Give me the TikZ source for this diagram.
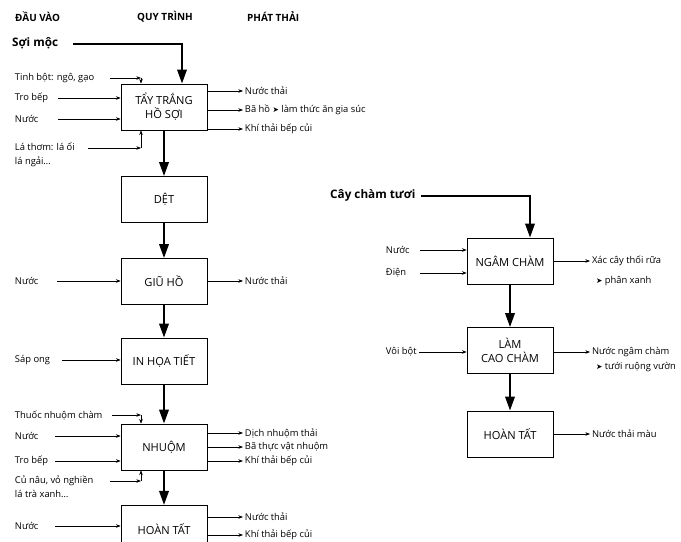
\documentclass[tikz,border=0pt]{standalone}
\usepackage{fontspec}
\setmainfont{Open Sans}
\newfontfamily\symfont{DejaVu Sans}
\usetikzlibrary{calc}
\usetikzlibrary{arrows.meta}
\usetikzlibrary{positioning}

\newcommand{\nxt}{{\symfont\fontsize{6.5}{6.5}\selectfont ➤}}

\tikzset{
	proc/.style={draw, line width=0.6pt, minimum width=2.58cm, minimum height=1.38cm, align=center, font=\fontsize{9.5}{12}\selectfont},
	lbl/.style={anchor=west, inner sep=1.5pt, align=left, font=\fontsize{8}{12}\selectfont},
	head/.style={anchor=west, inner sep=0pt, font=\bfseries\fontsize{8.5}{10}\selectfont},
	src/.style={anchor=west, inner sep=0pt, font=\bfseries\fontsize{10}{12}\selectfont},
	flow/.style={line width=2pt, -{Triangle[length=12pt,width=8pt]}},
	feed/.style={line width=0.5pt, -{Stealth[length=4pt,width=3pt]}},
}

\begin{document}
\begin{tikzpicture}[x=0.03cm, y=-0.03cm]
				\useasboundingbox (0,0) rectangle (681,542);

				\node[head] (h1) at (15,17) {ĐẦU VÀO};
				\node[head] (h2) at (137,17) {QUY TRÌNH};
				\node[head] (h3) at (247,17) {PHÁT THẢI};

				% day chinh
				\node[src] (soi) at (12,43) {Sợi mộc};
				\node[proc] (tay) at (164,107) {TẨY TRẮNG\\HỒ SỢI};
				\node[proc] (det) at (164,199.5) {DỆT};
				\node[proc] (giu) at (164,281.5) {GIŨ HỒ};
				\node[proc] (inh) at (164,361) {IN HỌA TIẾT};
				\node[proc] (nhuom) at (164,447) {NHUỘM};
				\node[proc, anchor=north, minimum height=1.45cm] (hoan) at (164,505) {HOÀN TẤT};

				\coordinate (soi0) at (73,44);
				\draw[flow] (soi0) -| ($(tay.north)+(18,0)$);
				\draw[flow] (tay.south) -- (det.north);
				\draw[flow] (det.south) -- (giu.north);
				\draw[flow] (giu.south) -- (inh.north);
				\draw[flow] (inh.south) -- (nhuom.north);
				\draw[flow] (nhuom.south) -- (hoan.north);

				% tay trang ho soi
				\node[lbl] (tinh) at (13,78) {Tinh bột: ngô, gạo};
				\node[lbl] (tro1) at (13,98) {Tro bếp};
				\node[lbl] (nuoc1) at (13,119) {Nước};
				\node[lbl] (la) at (13,155) {Lá thơm: lá ổi\\lá ngải…};
				\coordinate (tinh0) at (110,78);
				\coordinate (tinhk) at ($(tay.north)+(-23,0)$);
				\coordinate (tro10) at (58,98);
				\coordinate (nuoc10) at (58,119);
				\coordinate (la0) at (88,148);
				\coordinate (lak) at ($(tay.south)+(-23,0)$);
				\draw[feed] (tinh0) -- (tinh0 -| tinhk);
				\draw[feed] (tinh0 -| tinhk) -- (tinhk);
				\draw[feed] (tro10) -- (tro10 -| tay.west);
				\draw[feed] (nuoc10) -- (nuoc10 -| tay.west);
				\draw[feed] (la0) -- (la0 -| lak);
				\draw[feed] (la0 -| lak) -- (lak);

				\node[lbl] (o11) at (243,91) {Nước thải};
				\node[lbl] (o12) at (243,110) {Bã hồ \nxt\ làm thức ăn gia súc};
				\node[lbl] (o13) at (243,129) {Khí thải bếp củi};
				\draw[feed] (tay.east |- o11) -- (o11.west);
				\draw[feed] (tay.east |- o12) -- (o12.west);
				\draw[feed] (tay.east |- o13) -- (o13.west);

				% giu ho
				\node[lbl] (nuoc2) at (13,281) {Nước};
				\coordinate (nuoc20) at (57,281);
				\draw[feed] (nuoc20) -- (nuoc20 -| giu.west);
				\node[lbl] (o21) at (243,281) {Nước thải};
				\draw[feed] (giu.east |- o21) -- (o21.west);

				% in hoa tiet
				\node[lbl] (sap) at (13,360) {Sáp ong};
				\coordinate (sap0) at (62,360);
				\draw[feed] (sap0) -- (sap0 -| inh.west);

				% nhuom
				\node[lbl] (thuoc) at (13,415) {Thuốc nhuộm chàm};
				\node[lbl] (nuoc3) at (13,436) {Nước};
				\node[lbl] (tro3) at (13,461) {Tro bếp};
				\node[lbl] (cu) at (13,487) {Củ nâu, vỏ nghiền\\lá trà xanh…};
				\coordinate (thuoc0) at (112,415);
				\coordinate (thuock) at ($(nhuom.north)+(-23,0)$);
				\coordinate (nuoc30) at (55,436);
				\coordinate (tro30) at (55,461);
				\coordinate (cu0) at (110,481);
				\coordinate (cuk) at ($(nhuom.south)+(-23,0)$);
				\draw[feed] (thuoc0) -- (thuoc0 -| thuock);
				\draw[feed] (thuoc0 -| thuock) -- (thuock);
				\draw[feed] (nuoc30) -- (nuoc30 -| nhuom.west);
				\draw[feed] (tro30) -- (tro30 -| nhuom.west);
				\draw[feed] (cu0) -- (cu0 -| cuk);
				\draw[feed] (cu0 -| cuk) -- (cuk);

				\node[lbl] (o31) at (243,433) {Dịch nhuộm thải};
				\node[lbl] (o32) at (243,447) {Bã thực vật nhuộm};
				\node[lbl] (o33) at (243,461) {Khí thải bếp củi};
				\draw[feed] (nhuom.east |- o31) -- (o31.west);
				\draw[feed] (nhuom.east |- o32) -- (o32.west);
				\draw[feed] (nhuom.east |- o33) -- (o33.west);

				% hoan tat
				\node[lbl] (nuoc4) at (13,526) {Nước};
				\coordinate (nuoc40) at (55,526);
				\draw[feed] (nuoc40) -- (nuoc40 -| hoan.west);
				\node[lbl] (o41) at (243,517) {Nước thải};
				\node[lbl] (o42) at (243,535) {Khí thải bếp củi};
				\draw[feed] (hoan.east |- o41) -- (o41.west);
				\draw[feed] (hoan.east |- o42) -- (o42.west);

				% cay cham
				\node[src] (cay) at (330,195) {Cây chàm tươi};
				\node[proc] (ngam) at (510,261) {NGÂM CHÀM};
				\node[proc] (cao) at (510,350.5) {LÀM\\CAO CHÀM};
				\node[proc] (hoan2) at (510,434) {HOÀN TẤT};

				\coordinate (cay0) at (421,196);
				\draw[flow] (cay0) -| ($(ngam.north)+(20,0)$);
				\draw[flow] (ngam.south) -- (cao.north);
				\draw[flow] (cao.south) -- (hoan2.north);

				\node[lbl] (nuoc5) at (384,250) {Nước};
				\node[lbl] (dien) at (384,273) {Điện};
				\node[lbl] (voi) at (384,352) {Vôi bột};
				\coordinate (nuoc50) at (420,250);
				\coordinate (dien0) at (420,273);
				\draw[feed] (nuoc50) -- (nuoc50 -| ngam.west);
				\draw[feed] (dien0) -- (dien0 -| ngam.west);
				\draw[feed] (voi.east) -- (voi.east -| cao.west);

				\node[lbl] (o51) at (590,261) {Xác cây thối rữa};
				\node[lbl] (o51b) at (594,281) {\nxt\ phân xanh};
				\node[lbl] (o52) at (590,352) {Nước ngâm chàm};
				\node[lbl] (o52b) at (594,367) {\nxt\ tưới ruộng vườn};
				\node[lbl] (o53) at (590,434) {Nước thải màu};
				\draw[feed] (ngam.east |- o51) -- (o51.west);
				\draw[feed] (cao.east |- o52) -- (o52.west);
				\draw[feed] (hoan2.east |- o53) -- (o53.west);

			\end{tikzpicture}
\end{document}
